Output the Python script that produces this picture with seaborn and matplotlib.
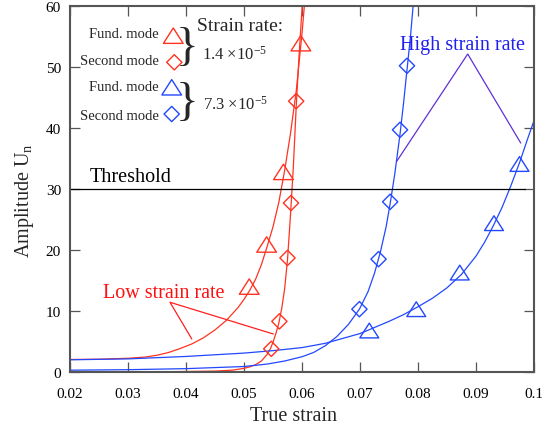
import numpy as np
import pandas as pd
import matplotlib
matplotlib.use("Agg")
import matplotlib.pyplot as plt
from matplotlib.path import Path
from matplotlib.markers import MarkerStyle
from matplotlib.ticker import FixedLocator, FixedFormatter
import seaborn as sns

# ---------------- data ----------------
# Low strain rate (1.4e-5): fundamental mode markers + fitted curve
low_fund_x = [0.0509, 0.0539, 0.0568, 0.0598]
low_fund_y = [14.0, 20.9, 32.8, 53.9]
low_fund_curve_x = [0.020, 0.025, 0.030, 0.033, 0.035, 0.037, 0.039, 0.041, 0.043, 0.045,
                    0.047, 0.049, 0.050, 0.051, 0.052, 0.053, 0.054, 0.055, 0.056, 0.057,
                    0.058, 0.059, 0.060, 0.0605]
low_fund_curve_y = [2.05, 2.1, 2.25, 2.45, 2.75, 3.2, 3.85, 4.6, 5.6, 6.9,
                    8.5, 10.6, 11.9, 13.4, 15.2, 17.6, 20.6, 23.8, 27.8, 33.0,
                    39.0, 46.0, 55.5, 61.0]

# Low strain rate: second mode
low_sec_x = [0.0547, 0.0561, 0.0575, 0.0581, 0.0590]
low_sec_y = [3.8, 8.3, 18.7, 27.7, 44.4]
low_sec_curve_x = [0.020, 0.035, 0.045, 0.048, 0.050, 0.051, 0.052, 0.053, 0.054, 0.0546,
                   0.055, 0.0555, 0.056, 0.0565, 0.057, 0.0575, 0.058, 0.0585, 0.059, 0.0595,
                   0.0601]
low_sec_curve_y = [0.0, 0.02, 0.15, 0.3, 0.6, 0.85, 1.2, 1.8, 2.9, 3.9,
                   4.9, 6.3, 8.0, 10.4, 13.6, 18.4, 25.5, 33.5, 43.5, 52.0,
                   61.0]

# High strain rate (7.3e-5): fundamental mode
high_fund_x = [0.0716, 0.0797, 0.0872, 0.0931, 0.0975]
high_fund_y = [6.8, 10.3, 16.3, 24.4, 34.1]
high_fund_curve_x = [0.020, 0.030, 0.040, 0.050, 0.055, 0.060, 0.064, 0.067, 0.070, 0.0725,
                     0.075, 0.0775, 0.080, 0.0825, 0.085, 0.0875, 0.090, 0.0915, 0.093, 0.0945,
                     0.096, 0.0975, 0.099, 0.100]
high_fund_curve_y = [2.0, 2.15, 2.55, 3.1, 3.5, 4.0, 4.7, 5.5, 6.3, 7.3,
                     8.3, 9.4, 10.7, 12.1, 13.8, 16.0, 19.0, 21.3, 24.0, 27.0,
                     30.5, 34.3, 38.5, 41.2]

# High strain rate: second mode
high_sec_x = [0.0699, 0.0732, 0.0752, 0.0769, 0.0781]
high_sec_y = [10.3, 18.5, 27.9, 39.7, 50.2]
high_sec_curve_x = [0.020, 0.030, 0.040, 0.050, 0.054, 0.057, 0.060, 0.062, 0.064, 0.066,
                    0.068, 0.0699, 0.0714, 0.0725, 0.0735, 0.0745, 0.0752, 0.076, 0.0769, 0.0775,
                    0.0781, 0.0787, 0.0792]
high_sec_curve_y = [0.3, 0.38, 0.55, 0.9, 1.3, 1.8, 2.5, 3.2, 4.3, 5.8,
                    7.8, 10.3, 13.2, 16.2, 19.6, 23.8, 27.6, 32.5, 39.0, 44.0,
                    49.5, 55.0, 60.5]

threshold = 30
threshold_x = [0.020, 0.0985]

low_arrow_x = [0.0410, 0.03724, 0.05505]
low_arrow_y = [5.41, 11.43, 6.23]
high_arrow_x = [0.07633, 0.08857, 0.09771]
high_arrow_y = [34.54, 52.13, 37.54]

x_ticks = [0.02, 0.03, 0.04, 0.05, 0.06, 0.07, 0.08, 0.09, 0.10]
x_tick_labels = ["0.02", "0.03", "0.04", "0.05", "0.06", "0.07", "0.08", "0.09", "0.1"]
y_ticks = [0, 10, 20, 30, 40, 50, 60]
y_tick_labels = ["0", "10", "20", "30", "40", "50", "60"]

# ---------------- style ----------------
sns.set_theme(style="ticks")
plt.rcParams["font.family"] = ["Liberation Serif", "DejaVu Serif"]
plt.rcParams["mathtext.fontset"] = "custom"
plt.rcParams["mathtext.rm"] = "Liberation Serif"
plt.rcParams["mathtext.it"] = "Liberation Serif:italic"
plt.rcParams["axes.unicode_minus"] = False

RED = "#FF3320"
BLUE = "#2248FF"
SPINE = "#555555"

tri = MarkerStyle(Path([(0, 0.78), (-1, -0.78), (1, -0.78), (0, 0.78)], closed=True))
dia = MarkerStyle(Path([(0, 1), (1, 0), (0, -1), (-1, 0), (0, 1)], closed=True))
TRI_S = 14.2 ** 2
DIA_S = 11.0 ** 2

fig = plt.figure(figsize=(5.42, 4.27), dpi=100)
ax = fig.add_axes([70 / 542, 1 - 373 / 427, 464 / 542, 366 / 427])


def curve(xs, ys, color, lw=0.9):
    df = pd.DataFrame({"x": xs, "y": ys})
    sns.lineplot(data=df, x="x", y="y", ax=ax, color=color, lw=lw,
                 sort=False, estimator=None)


def marks(xs, ys, color, marker, s):
    df = pd.DataFrame({"x": xs, "y": ys})
    sns.scatterplot(data=df, x="x", y="y", ax=ax, marker=marker, s=s,
                    facecolor="none", edgecolor=color, linewidth=1.0, zorder=4)


curve(low_fund_curve_x, low_fund_curve_y, RED)
curve(low_sec_curve_x, low_sec_curve_y, RED)
curve(high_fund_curve_x, high_fund_curve_y, BLUE)
curve(high_sec_curve_x, high_sec_curve_y, BLUE)
marks(low_fund_x, low_fund_y, RED, tri, TRI_S)
marks(low_sec_x, low_sec_y, RED, dia, DIA_S)
marks(high_fund_x, high_fund_y, BLUE, tri, TRI_S * 0.92)
marks(high_sec_x, high_sec_y, BLUE, dia, DIA_S)

curve(threshold_x, [threshold] * len(threshold_x), "black", lw=0.9)
curve(low_arrow_x, low_arrow_y, "#FF2020", lw=0.9)
curve(high_arrow_x, high_arrow_y, "#6030D8", lw=0.9)

# annotations
ax.text(0.02345, 31.36, "Threshold", fontsize=14.5, color="black", va="baseline", ha="left")
ax.text(0.02563, 12.25, "Low strain rate", fontsize=14.5, color="#FF1010", va="baseline", ha="left")
ax.text(0.0769, 52.95, "High strain rate", fontsize=14.5, color="#2020EE", va="baseline", ha="left")

# custom legend
tA = ax.transAxes
for ytxt, txt in [(0.9235, "Fund. mode"), (0.8508, "Second mode"),
                  (0.7787, "Fund. mode"), (0.7003, "Second mode")]:
    ax.text(0.192, ytxt, txt, transform=tA, fontsize=10.5, ha="right", va="center")
ax.scatter([0.2226], [0.9189], transform=tA, marker=tri, s=TRI_S, facecolor="none", edgecolor=RED, linewidth=1.0, clip_on=False)
ax.scatter([0.2248], [0.8462], transform=tA, marker=dia, s=DIA_S, facecolor="none", edgecolor=RED, linewidth=1.0, clip_on=False)
ax.scatter([0.2192], [0.7779], transform=tA, marker=tri, s=TRI_S, facecolor="none", edgecolor=BLUE, linewidth=1.0, clip_on=False)
ax.scatter([0.2192], [0.7049], transform=tA, marker=dia, s=DIA_S, facecolor="none", edgecolor=BLUE, linewidth=1.0, clip_on=False)
ax.text(0.2532, 0.8866, "}", transform=tA, fontsize=34, ha="center", va="center")
ax.text(0.2532, 0.7350, "}", transform=tA, fontsize=34, ha="center", va="center")
ax.text(0.2737, 0.9454, "Strain rate:", transform=tA, fontsize=14, ha="left", va="center")
ax.text(0.2845, 0.857, r"1.4 ×10$^{-5}$", transform=tA, fontsize=12, ha="left", va="baseline")
ax.text(0.2873, 0.7186, r"7.3 ×10$^{-5}$", transform=tA, fontsize=12, ha="left", va="baseline")

# axes
ax.set_xlim(0.02, 0.10)
ax.set_ylim(0, 60)
ax.xaxis.set_major_locator(FixedLocator(x_ticks))
ax.xaxis.set_major_formatter(FixedFormatter(x_tick_labels))
ax.yaxis.set_major_locator(FixedLocator(y_ticks))
ax.yaxis.set_major_formatter(FixedFormatter(y_tick_labels))
ax.tick_params(axis="both", which="major", direction="in", length=7.2, width=0.9,
               color=SPINE, labelsize=11, top=True, right=True, labelcolor="black")
ax.tick_params(axis="x", pad=11.0)
ax.tick_params(axis="y", pad=6.5)
for sp in ax.spines.values():
    sp.set_visible(True)
    sp.set_color(SPINE)
    sp.set_linewidth(1.5)

ax.set_xlabel("True strain", fontsize=14.5, va="baseline")
ax.xaxis.set_label_coords((293.3 - 70) / 464, (373 - 420.7) / 366)
ax.set_ylabel(r"Amplitude U$_\mathrm{n}$", fontsize=14.5, va="center")
ax.yaxis.set_label_coords((24.5 - 70) / 464, (373 - 200.8) / 366)

fig.savefig("out.png", dpi=100)
